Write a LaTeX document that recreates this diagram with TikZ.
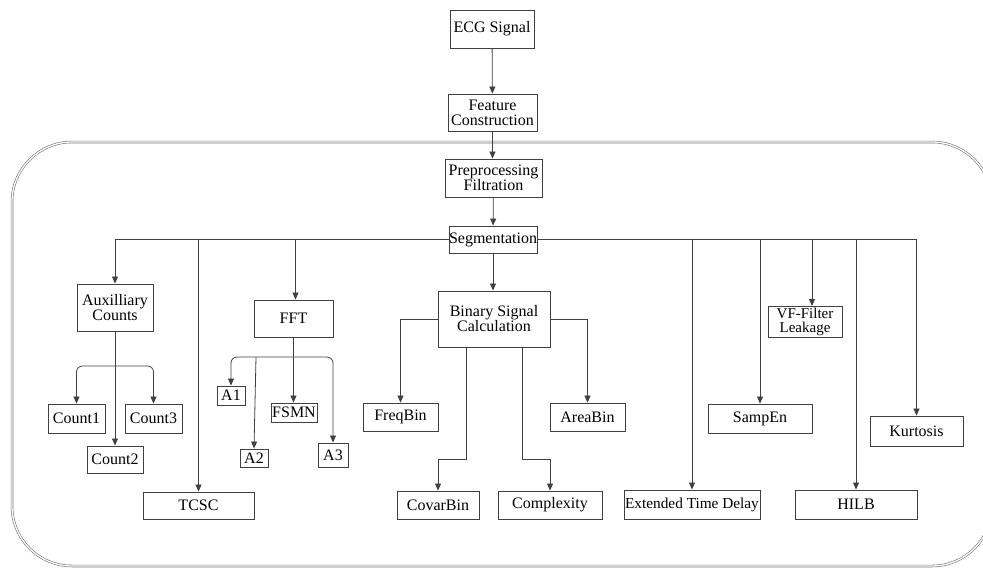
\documentclass[tikz,border=0pt]{standalone}
\usepackage{fontspec}
\setmainfont{Liberation Serif}
\usetikzlibrary{arrows.meta}
\begin{document}
\begin{tikzpicture}[x=1pt,y=-1pt,
  box/.style={draw=black!75, line width=0.9pt, inner sep=0pt, align=center,
              font=\fontsize{16}{15}\selectfont},
  conn/.style={draw=black!75, line width=0.8pt},
  arr/.style={conn, -{Triangle[length=7pt,width=6pt]}},
  arrtwo/.style={conn, {Triangle[length=7pt,width=6pt]}-{Triangle[length=7pt,width=6pt]}, rounded corners=6pt},
  frame/.style={draw=black!55, double=white, double distance=1.3pt, line width=0.6pt, rounded corners=60pt}]
\useasboundingbox (0,0) rectangle (983,568);
\draw[frame] (12,142) rectangle (992,566);

\node[box, minimum width=84pt, minimum height=38pt] (ecg) at (492,29) {ECG Signal};
\node[box, minimum width=89pt, minimum height=37pt] (feat) at (492.5,112.5) {Feature\\Construction};
\node[box, minimum width=97pt, minimum height=38pt] (pre) at (493.5,178) {Preprocessing\\Filtration};
\node[box, minimum width=88pt, minimum height=27pt] (seg) at (493,239.5) {Segmentation};
\node[box, minimum width=76pt, minimum height=47pt] (aux) at (115,307.5) {Auxilliary\\Counts};
\node[box, minimum width=79pt, minimum height=37pt] (fft) at (293.5,318.5) {FFT};
\node[box, minimum width=57pt, minimum height=29pt] (c1) at (76.5,418.5) {Count1};
\node[box, minimum width=57pt, minimum height=29pt] (c3) at (153.5,418.5) {Count3};
\node[box, minimum width=56pt, minimum height=27pt] (c2) at (115,459.5) {Count2};
\node[box, minimum width=111pt, minimum height=27pt] (tcsc) at (198.5,505.5) {TCSC};
\node[box, minimum width=28pt, minimum height=19pt] (a1) at (231,395.5) {A1};
\node[box, minimum width=46pt, minimum height=19pt] (fsmn) at (294,412.5) {FSMN};
\node[box, minimum width=28pt, minimum height=18pt] (a2) at (254,458) {A2};
\node[box, minimum width=30pt, minimum height=24pt] (a3) at (333,455) {A3};
\node[box, minimum width=112pt, minimum height=56pt] (bin) at (494,319) {Binary Signal\\Calculation};
\node[box, minimum width=75pt, minimum height=28pt] (freq) at (400.5,417) {FreqBin};
\node[box, minimum width=75pt, minimum height=28pt] (area) at (587.5,417) {AreaBin};
\node[box, minimum width=82pt, minimum height=28pt] (covar) at (438,505) {CovarBin};
\node[box, minimum width=104pt, minimum height=28pt] (compl) at (550,505) {Complexity};
\node[box, minimum width=136pt, minimum height=29pt, font=\fontsize{15.3}{15}\selectfont] (etd) at (692,504.5) {Extended Time Delay};
\node[box, minimum width=104pt, minimum height=29pt] (samp) at (760,418.5) {SampEn};
\node[box, minimum width=74pt, minimum height=31pt, font=\fontsize{15}{14.6}\selectfont] (vf) at (805,322) {VF-Filter\\Leakage};
\node[box, minimum width=122pt, minimum height=29pt] (hilb) at (856,504.5) {HILB};
\node[box, minimum width=93pt, minimum height=30pt] (kurt) at (916.5,431) {Kurtosis};

\draw[arr] (ecg) -- (feat);
\draw[arr] (feat.south) -- (feat.south |- pre.north);
\draw[arr] (pre) -- (seg);
\draw[arr] (seg.west) -| (aux.north);
\draw[arr] (seg.west) -| (tcsc.north);
\draw[arr] (seg.west) -| ([xshift=2pt]fft.north);
\draw[arr] (seg.south) -- (seg.south |- bin.north);
\draw[arr] (seg.east) -| (etd.north);
\draw[arr] (seg.east) -| (samp.north);
\draw[arr] (seg.east) -| ([xshift=7pt]vf.north);
\draw[arr] (seg.east) -| (hilb.north);
\draw[arr] (seg.east) -| (kurt.north);

\draw[arr] (aux.south) -- (c2.north);
\coordinate (auxb) at (115,366);
\draw[arrtwo] (c1.north) |- (auxb) -| (c3.north);

\draw[arr] (fft.south) -- (fft.south |- fsmn.north);
\coordinate (fftb) at (293.5,357);
\coordinate (atwo) at (256,357);
\draw[arrtwo] (a1.north) |- (fftb) -| (a3.north);
\draw[arr] (atwo) -- (a2.north);

\draw[arr] (bin.west) -| (freq.north);
\draw[arr] (bin.east) -| (area.north);
\draw[arr] ([xshift=-28pt]bin.south) -- ++(0,112) -| (covar.north);
\draw[arr] ([xshift=28pt]bin.south) -- ++(0,112) -| (compl.north);
\end{tikzpicture}
\end{document}
